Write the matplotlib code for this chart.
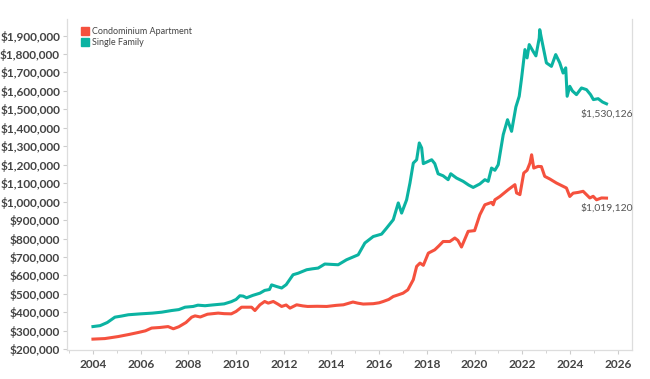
import matplotlib
matplotlib.use("Agg")
import matplotlib.pyplot as plt
from matplotlib.patches import Patch
from matplotlib.ticker import FuncFormatter, MultipleLocator

plt.rcParams['font.family'] = ['Lato', 'DejaVu Sans']

# Single family median price (thousands of dollars)
sf_years = [2004.0, 2004.3, 2004.6, 2004.92, 2005.2, 2005.48, 2006.0, 2006.5, 2006.88,
            2007.3, 2007.6, 2007.86, 2008.2, 2008.4, 2008.7, 2009.0, 2009.5, 2009.8,
            2010.0, 2010.16, 2010.3, 2010.44, 2010.7, 2011.0, 2011.2, 2011.4, 2011.49,
            2011.7, 2011.91, 2012.1, 2012.39, 2012.6, 2012.96, 2013.2, 2013.44, 2013.72,
            2014.0, 2014.28, 2014.63, 2015.12, 2015.4, 2015.75, 2016.1, 2016.3, 2016.59,
            2016.8, 2016.94, 2017.15, 2017.29, 2017.43, 2017.57, 2017.68, 2017.78, 2017.85,
            2018.0, 2018.2, 2018.33, 2018.47, 2018.68, 2018.89, 2019.0, 2019.24, 2019.52,
            2019.75, 2019.94, 2020.22, 2020.43, 2020.57, 2020.71, 2020.85, 2020.99, 2021.2,
            2021.38, 2021.55, 2021.73, 2021.87, 2021.97, 2022.11, 2022.2, 2022.29, 2022.45,
            2022.57, 2022.71, 2022.73, 2022.84, 2023.01, 2023.22, 2023.4, 2023.57, 2023.71,
            2023.82, 2023.88, 2023.99, 2024.1, 2024.27, 2024.48, 2024.69, 2024.86, 2024.98,
            2025.18, 2025.36, 2025.53]
sf_values = [323, 328, 345, 374, 380, 387, 392, 396, 401,
             410, 415, 428, 432, 439, 436, 440, 446, 458,
             470, 490, 488, 479, 492, 504, 519, 524, 549,
             540, 532, 550, 604, 612, 631, 636, 640, 662,
             660, 658, 685, 712, 776, 811, 824, 855, 902,
             993, 938, 1010, 1101, 1209, 1227, 1318, 1291, 1206,
             1215, 1227, 1206, 1151, 1140, 1119, 1151, 1128, 1110,
             1090, 1077, 1096, 1119, 1110, 1182, 1170, 1200, 1363,
             1444, 1381, 1513, 1571, 1670, 1824, 1779, 1851, 1815,
             1790, 1887, 1932, 1860, 1752, 1733, 1797, 1752, 1697,
             1725, 1571, 1625, 1600, 1580, 1616, 1607, 1580, 1553,
             1558, 1540, 1530.126]

# Condominium apartment median price (thousands of dollars)
condo_years = [2004.0, 2004.5, 2005.06, 2005.5, 2005.9, 2006.2, 2006.46, 2006.8, 2007.15,
               2007.37, 2007.6, 2007.9, 2008.14, 2008.28, 2008.5, 2008.8, 2009.25, 2009.5,
               2009.8, 2010.0, 2010.23, 2010.65, 2010.79, 2011.0, 2011.2, 2011.35, 2011.56,
               2011.75, 2011.91, 2012.1, 2012.26, 2012.54, 2012.8, 2013.0, 2013.4, 2013.8,
               2014.2, 2014.5, 2014.9, 2015.1, 2015.33, 2015.75, 2016.0, 2016.17, 2016.4,
               2016.59, 2016.8, 2017.0, 2017.2, 2017.43, 2017.57, 2017.71, 2017.85, 2018.06,
               2018.33, 2018.5, 2018.68, 2018.96, 2019.17, 2019.3, 2019.45, 2019.73, 2020.0,
               2020.22, 2020.43, 2020.71, 2020.78, 2020.85, 2021.06, 2021.41, 2021.69, 2021.76,
               2021.9, 2022.06, 2022.2, 2022.32, 2022.39, 2022.48, 2022.66, 2022.8, 2022.94,
               2023.15, 2023.43, 2023.71, 2023.85, 2023.99, 2024.13, 2024.34, 2024.55, 2024.69,
               2024.83, 2024.97, 2025.11, 2025.32, 2025.53]
condo_values = [255, 258, 269, 280, 291, 300, 315, 318, 323,
                311, 322, 345, 374, 381, 375, 390, 396, 393,
                392, 405, 428, 428, 410, 441, 459, 450, 459,
                445, 432, 440, 423, 441, 435, 432, 433, 432,
                438, 441, 456, 450, 445, 447, 452, 459, 470,
                486, 495, 504, 522, 577, 649, 667, 655, 721,
                739, 760, 784, 784, 803, 790, 754, 839, 843,
                929, 983, 996, 983, 1010, 1028, 1065, 1092, 1047,
                1038, 1155, 1170, 1209, 1254, 1182, 1191, 1190, 1137,
                1123, 1101, 1083, 1074, 1028, 1046, 1050, 1056, 1038,
                1020, 1029, 1010, 1020, 1019.12]

condo_color = '#F5513E'
sf_color = '#0BB3A2'

fig = plt.figure(figsize=(6.5, 3.79), dpi=100)
ax = fig.add_axes([0.103, 0.076, 0.869, 0.874])

ax.plot(condo_years, [v * 1000 for v in condo_values], color=condo_color, lw=2.2)
ax.plot(sf_years, [v * 1000 for v in sf_values], color=sf_color, lw=2.2)

ax.set_xlim(2002.91, 2026.59)
ax.set_ylim(195000, 1990000)
ax.xaxis.set_major_locator(MultipleLocator(2))
ax.xaxis.set_minor_locator(MultipleLocator(1))
ax.yaxis.set_major_locator(MultipleLocator(100000))
ax.yaxis.set_major_formatter(FuncFormatter(lambda v, p: '${:,.0f}'.format(v)))

for lab in ax.get_xticklabels() + ax.get_yticklabels():
    lab.set_fontweight('bold')
ax.tick_params(axis='both', labelsize=8.6, labelcolor='#444444', color='#cccccc',
               length=3, width=0.8)
ax.tick_params(axis='x', which='minor', length=2, color='#cccccc')
ax.tick_params(axis='y', pad=2)

ax.spines['top'].set_visible(False)
for s in ['left', 'bottom', 'right']:
    ax.spines[s].set_color('#dddddd')
    ax.spines[s].set_linewidth(0.9)

# end labels
ax.annotate('${:,.0f}'.format(sf_values[-1] * 1000), (sf_years[-1], sf_values[-1] * 1000),
            xytext=(0, -4), textcoords='offset points', ha='center', va='top',
            fontsize=7.5, color='#555555')
ax.annotate('${:,.0f}'.format(condo_values[-1] * 1000), (condo_years[-1], condo_values[-1] * 1000),
            xytext=(0, -4), textcoords='offset points', ha='center', va='top',
            fontsize=7.5, color='#555555')

handles = [Patch(color=condo_color, label='Condominium Apartment'),
           Patch(color=sf_color, label='Single Family')]
ax.legend(handles=handles, loc='upper left', bbox_to_anchor=(0.01, 1.0), frameon=False,
          fontsize=6.5, handlelength=0.9, handleheight=0.9, handletextpad=0.4,
          labelspacing=0.25, labelcolor='#444444')

fig.savefig('out.png', dpi=100)
